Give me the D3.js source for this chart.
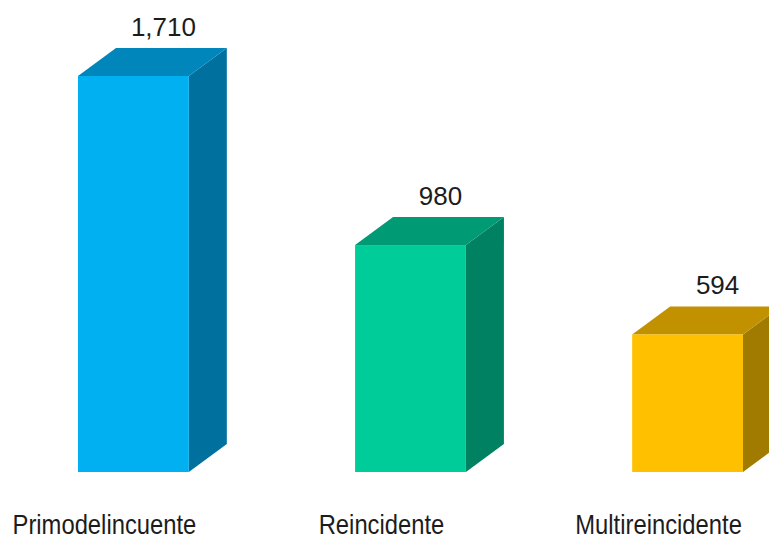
<!DOCTYPE html>
<html>
<head>
<meta charset="utf-8">
<script src="https://cdn.jsdelivr.net/npm/d3@7"></script>
<style>
  html, body { margin: 0; padding: 0; background: #ffffff; }
  svg { display: block; }
  text { font-family: "Liberation Sans", Arial, sans-serif; fill: #1c1c1c; }
</style>
</head>
<body>
<svg id="chart" width="769" height="540"></svg>
<script>
const categories = ["Primodelincuente", "Reincidente", "Multireincidente"];
const values = [1710, 980, 594];
const frontColors = ["#00B0F0", "#00CC99", "#FFC000"];
const topColors = ["#0086BA", "#009A74", "#C29100"];
const sideColors = ["#00709E", "#008262", "#A07B00"];

const width = 769, height = 540;
const depthX = 38, depthY = 28;

const svg = d3.select("#chart");

const x = d3.scaleBand()
  .domain(categories)
  .range([78, 743])
  .paddingInner(0.6)
  .paddingOuter(0);

const y = d3.scaleLinear()
  .domain([0, d3.max(values)])
  .range([472, 76]);

const data = categories.map((c, i) => ({ c, v: values[i], i }));
const bw = x.bandwidth();

const g = svg.append("g");

const bars = g.selectAll("g.bar").data(data).join("g").attr("class", "bar");

// side face
bars.append("path")
  .attr("fill", d => sideColors[d.i])
  .attr("d", d => {
    const x0 = x(d.c) + bw, yt = y(d.v), yb = y(0);
    return `M${x0},${yt} L${x0 + depthX},${yt - depthY} L${x0 + depthX},${yb - depthY} L${x0},${yb} Z`;
  });

// top face
bars.append("path")
  .attr("fill", d => topColors[d.i])
  .attr("d", d => {
    const x0 = x(d.c), yt = y(d.v);
    return `M${x0},${yt} L${x0 + depthX},${yt - depthY} L${x0 + bw + depthX},${yt - depthY} L${x0 + bw},${yt} Z`;
  });

// front face
bars.append("rect")
  .attr("fill", d => frontColors[d.i])
  .attr("x", d => x(d.c))
  .attr("y", d => y(d.v))
  .attr("width", bw)
  .attr("height", d => y(0) - y(d.v));

// value labels
const fmt = d3.format(",");
bars.append("text")
  .attr("text-anchor", "middle")
  .attr("font-size", 26)
  .attr("transform", d => `translate(${x(d.c) + bw / 2 + 30},${y(d.v) - depthY - 12})`)
  .text(d => fmt(d.v));

// category labels
g.selectAll("text.cat").data(data).join("text")
  .attr("class", "cat")
  .attr("text-anchor", "middle")
  .attr("font-size", 28)
  .attr("transform", d => `translate(${x(d.c) + bw / 2 - 29},534) scale(0.85,1)`)
  .text(d => d.c);
</script>
</body>
</html>
